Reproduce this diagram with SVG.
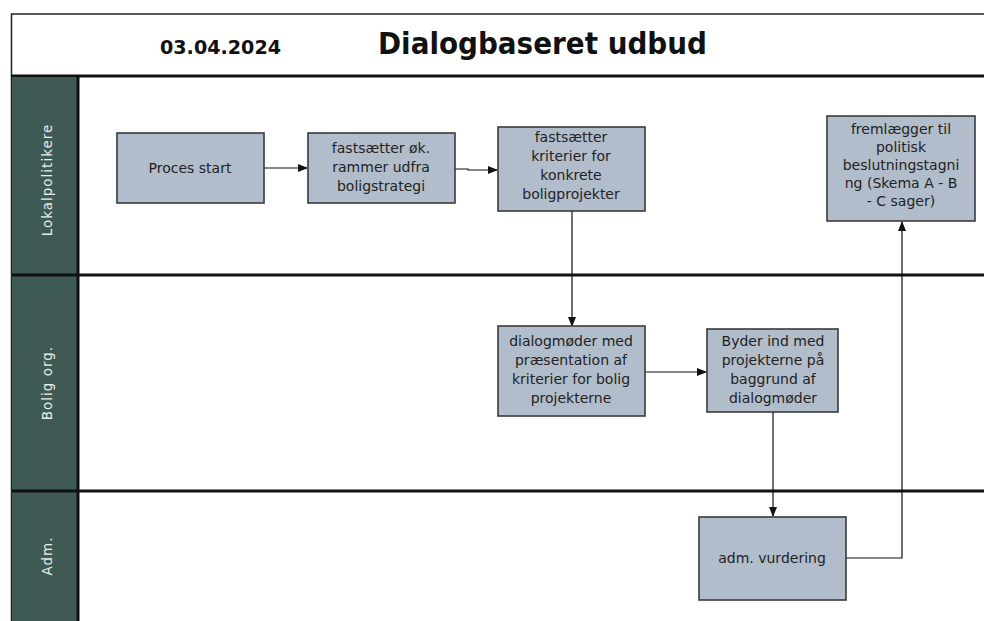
<svg xmlns="http://www.w3.org/2000/svg" width="984" height="621" viewBox="0 0 984 621">
<defs>
<marker id="arr" markerWidth="10" markerHeight="8" refX="9" refY="4" orient="auto" markerUnits="userSpaceOnUse">
<path d="M0,0 L10,4 L0,8 Z" fill="#111"/>
</marker>
<style>
.box{fill:#b2bdcb;stroke:#3a3a3a;stroke-width:1.6}
.bt{font-family:"DejaVu Sans",Verdana,sans-serif;font-size:14px;fill:#222;text-anchor:middle}
.lane{fill:#3f5a55}
.lt{font-family:"DejaVu Sans",Verdana,sans-serif;font-size:13.5px;fill:#e8ecea;text-anchor:middle;letter-spacing:1px}
.con{fill:none;stroke:#111;stroke-width:1.2}
.sep{stroke:#111;stroke-width:3}
</style>
</defs>
<rect width="984" height="621" fill="#fff"/>
<g id="frame">
<rect x="11.5" y="14" width="980" height="620" fill="none" stroke="#222" stroke-width="1.5"/>
<line x1="11" y1="76" x2="984" y2="76" class="sep"/>
<rect x="12" y="77" width="66" height="544" class="lane"/>
<line x1="78" y1="77" x2="78" y2="621" class="sep"/>
<line x1="12" y1="275" x2="984" y2="275" class="sep"/>
<line x1="12" y1="491" x2="984" y2="491" class="sep"/>
<text x="160" y="54" textLength="121" lengthAdjust="spacingAndGlyphs" font-family="'DejaVu Sans Condensed','DejaVu Sans',sans-serif" font-weight="bold" font-size="19" fill="#111">03.04.2024</text>
<text x="378" y="54" textLength="329" lengthAdjust="spacingAndGlyphs" font-family="'DejaVu Sans Condensed','DejaVu Sans',sans-serif" font-weight="bold" font-size="31" fill="#111">Dialogbaseret udbud</text>
</g>
<g id="lane-lokalpolitikere"><text class="lt" transform="translate(52,180) rotate(-90)">Lokalpolitikere</text></g>
<g id="lane-bolig"><text class="lt" transform="translate(52,383) rotate(-90)">Bolig org.</text></g>
<g id="lane-adm"><text class="lt" transform="translate(52,556) rotate(-90)">Adm.</text></g>
<g id="connectors">
<line x1="264" y1="168" x2="307" y2="168" class="con" marker-end="url(#arr)"/>
<polyline points="455,169 468,169 468,170 497,170" class="con" marker-end="url(#arr)"/>
<line x1="572" y1="211" x2="572" y2="326" class="con" marker-end="url(#arr)"/>
<line x1="645" y1="372" x2="706" y2="372" class="con" marker-end="url(#arr)"/>
<line x1="773" y1="412" x2="773" y2="516" class="con" marker-end="url(#arr)"/>
<polyline points="846,558 902,558 902,222" class="con" marker-end="url(#arr)"/>
</g>
<g id="n1"><rect x="117" y="133" width="147" height="70" class="box"/><text class="bt" x="190" y="173">Proces start</text></g>
<g id="n2"><rect x="308" y="133" width="147" height="70" class="box"/><text class="bt" x="381" y="153">fastsætter øk.</text><text class="bt" x="381" y="172">rammer udfra</text><text class="bt" x="381" y="191">boligstrategi</text></g>
<g id="n3"><rect x="498" y="127" width="147" height="84" class="box"/><text class="bt" x="571" y="142">fastsætter</text><text class="bt" x="571" y="161">kriterier for</text><text class="bt" x="571" y="180">konkrete</text><text class="bt" x="571" y="199">boligprojekter</text></g>
<g id="n4"><rect x="827" y="116" width="148" height="105" class="box"/><text class="bt" x="901" y="134">fremlægger til</text><text class="bt" x="901" y="152">politisk</text><text class="bt" x="901" y="170">beslutningstagni</text><text class="bt" x="901" y="188">ng (Skema A - B</text><text class="bt" x="901" y="206">- C sager)</text></g>
<g id="n5"><rect x="498" y="326" width="147" height="90" class="box"/><text class="bt" x="571" y="346">dialogmøder med</text><text class="bt" x="571" y="365">præsentation af</text><text class="bt" x="571" y="384">kriterier for bolig</text><text class="bt" x="571" y="403">projekterne</text></g>
<g id="n6"><rect x="707" y="329" width="131" height="83" class="box"/><text class="bt" x="773" y="346">Byder ind med</text><text class="bt" x="773" y="365">projekterne på</text><text class="bt" x="773" y="384">baggrund af</text><text class="bt" x="773" y="403">dialogmøder</text></g>
<g id="n7"><rect x="699" y="517" width="147" height="83" class="box"/><text class="bt" x="772" y="563">adm. vurdering</text></g>
</svg>
